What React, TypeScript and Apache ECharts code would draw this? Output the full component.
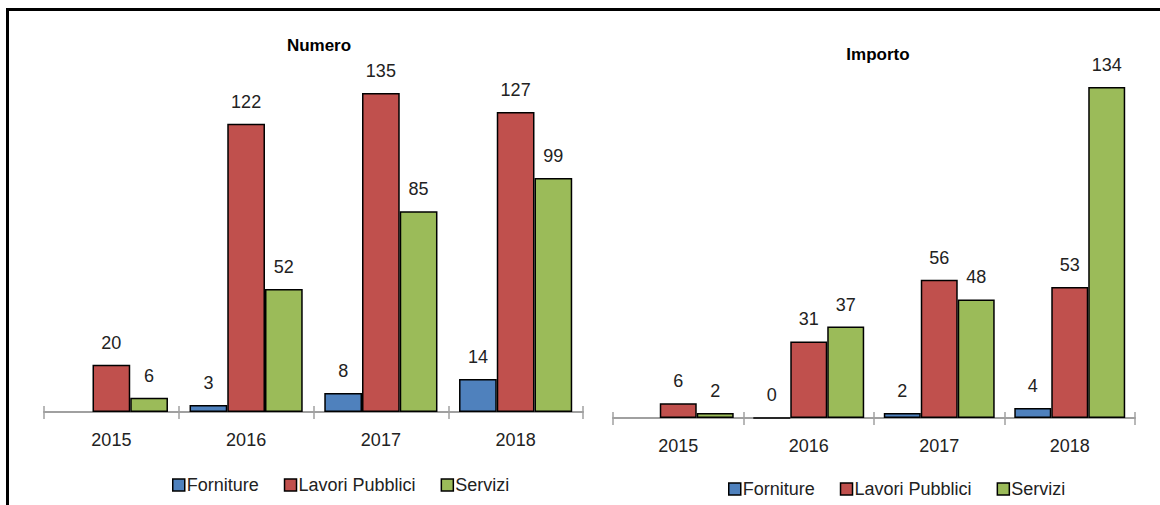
import React, { useEffect, useRef } from "react";
import * as echarts from "echarts";

const years = ["2015", "2016", "2017", "2018"];
const seriesNames = ["Forniture", "Lavori Pubblici", "Servizi"];
const numeroForniture = [null, 3, 8, 14];
const numeroLavori = [20, 122, 135, 127];
const numeroServizi = [6, 52, 85, 99];
const importoForniture = [null, 0, 2, 4];
const importoLavori = [6, 31, 56, 53];
const importoServizi = [2, 37, 48, 134];
const titles = ["Numero", "Importo"];

const colors = ["#4F81BD", "#C0504D", "#9BBB59"];
const FONT = "'Liberation Sans', Arial, sans-serif";

export default function App() {
  const ref = useRef<HTMLDivElement>(null);
  useEffect(() => {
    const chart = echarts.init(ref.current!, null, { renderer: "svg" });
    const grids = [
      { left: 44, width: 539, top: 412 - 150 * 2.363, height: 150 * 2.363 },
      { left: 613, width: 522, top: 418 - 150 * 2.47, height: 150 * 2.47 },
    ];
    const panels = [
      [numeroForniture, numeroLavori, numeroServizi],
      [importoForniture, importoLavori, importoServizi],
    ];
    const xAxes: any[] = [];
    const yAxes: any[] = [];
    grids.forEach((g, i) => {
      xAxes.push({
        type: "category",
        gridIndex: i,
        data: years,
        position: "bottom",
        axisLine: { show: true, lineStyle: { color: "#A0A0A0", width: 2 } },
        axisTick: { show: true, length: 7, lineStyle: { color: "#A0A0A0", width: 1.5 } },
        axisLabel: { fontFamily: FONT, fontSize: 18, color: "#222", margin: 19 },
      });
      yAxes.push({ type: "value", gridIndex: i, min: 0, max: 150, show: false });
    });
    grids.forEach((g, i) => {
      xAxes.push({
        type: "category",
        gridIndex: i,
        data: years,
        position: "bottom",
        axisLine: { show: false },
        axisTick: { show: true, inside: true, length: 6, lineStyle: { color: "#A0A0A0", width: 1.5 } },
        axisLabel: { show: false },
      });
    });
    const series: any[] = [];
    panels.forEach((p, gi) => {
      p.forEach((vals, si) => {
        series.push({
          type: "bar",
          name: seriesNames[si],
          xAxisIndex: gi,
          yAxisIndex: gi,
          data: vals,
          barGap: "0%",
          barCategoryGap: gi === 0 ? "16%" : "15%",
          itemStyle: { color: colors[si], borderColor: "#000", borderWidth: 1.5 },
          label: {
            show: true,
            position: "top",
            distance: 13,
            fontFamily: FONT,
            fontSize: 18,
            color: "#222",
          },
        });
      });
    });
    const legendBase = {
      data: seriesNames,
      itemWidth: 12,
      itemHeight: 12,
      itemGap: 25,
      icon: "rect",
      textStyle: { fontFamily: FONT, fontSize: 18, color: "#222", padding: [0, 0, 0, -3] },
      itemStyle: { borderColor: "#000", borderWidth: 1.5 },
    };
    chart.setOption({
      animation: false,
      grid: grids,
      xAxis: xAxes,
      yAxis: yAxes,
      series,
      title: [
        { text: titles[0], left: 314, top: 32, textAlign: "center", textStyle: { fontFamily: FONT, fontSize: 17, fontWeight: "bold", color: "#000" } },
        { text: titles[1], left: 873, top: 41, textAlign: "center", textStyle: { fontFamily: FONT, fontSize: 17, fontWeight: "bold", color: "#000" } },
      ],
      legend: [
        { ...legendBase, left: 167, top: 471 },
        { ...legendBase, left: 723, top: 475 },
      ],
      graphic: [
        { type: "line", shape: { x1: 6, y1: 9.5, x2: 1160, y2: 9.5 }, style: { stroke: "#000", lineWidth: 3 } },
        { type: "line", shape: { x1: 7.5, y1: 8, x2: 7.5, y2: 505 }, style: { stroke: "#000", lineWidth: 3 } },
      ],
    });
    return () => chart.dispose();
  }, []);
  return (
    <div
      ref={ref}
      style={{ position: "fixed", left: 0, top: 0, width: 1160, height: 505, background: "#fff" }}
    />
  );
}
